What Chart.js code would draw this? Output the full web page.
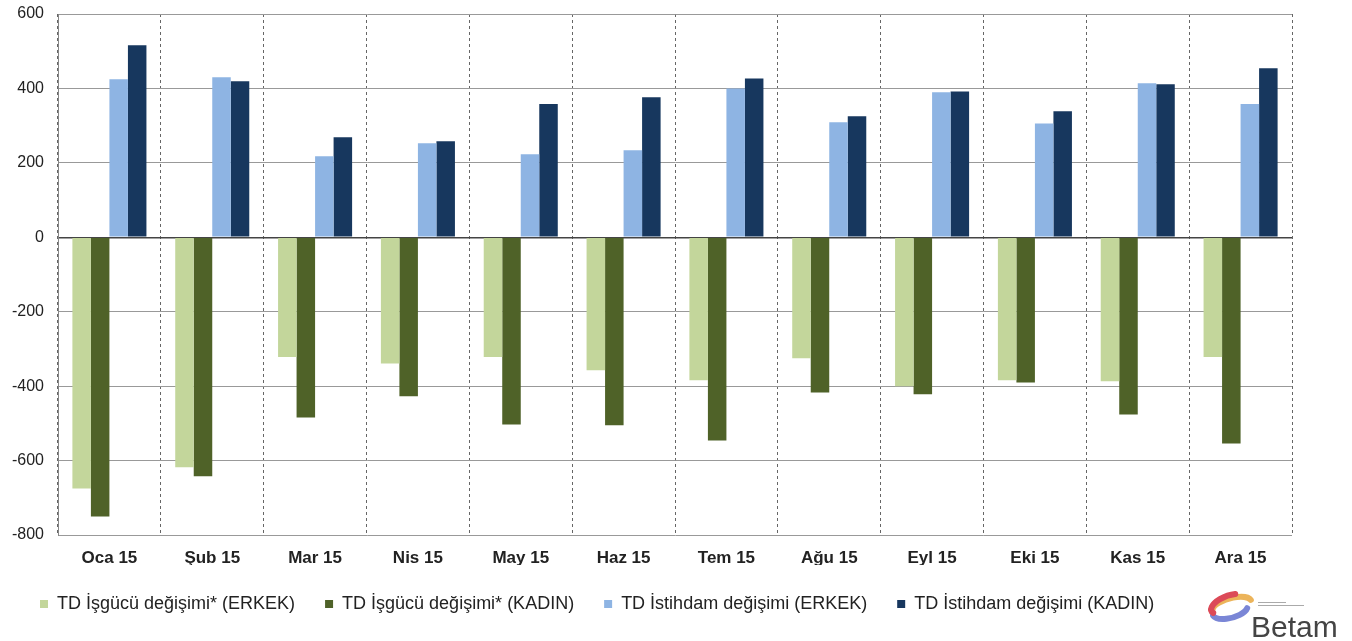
<!DOCTYPE html>
<html>
<head>
<meta charset="utf-8">
<script src="https://cdn.jsdelivr.net/npm/chart.js@4.4.1/dist/chart.umd.min.js"></script>
<style>
  html, body { margin: 0; padding: 0; background: #fff; }
  #wrap { width: 1352px; height: 641px; position: relative; }
</style>
</head>
<body>
<div id="wrap"><canvas id="chart"></canvas></div>
<script>
var months = ['Oca 15', 'Şub 15', 'Mar 15', 'Nis 15', 'May 15', 'Haz 15', 'Tem 15', 'Ağu 15', 'Eyl 15', 'Eki 15', 'Kas 15', 'Ara 15'];
var isgucuErkek = [-675, -618, -322, -339, -322, -357, -384, -325, -400, -384, -387, -322];
var isgucuKadin = [-750, -642, -484, -427, -503, -505, -546, -417, -422, -390, -476, -554];
var istihdamErkek = [425, 430, 218, 253, 223, 234, 400, 309, 390, 306, 414, 358];
var istihdamKadin = [516, 419, 269, 258, 358, 376, 427, 325, 392, 339, 411, 454];
var yMin = -800, yMax = 600, yStep = 200;

// small Betam logo bottom right
var logoPlugin = {
    id: 'logo',
    afterDraw: function(chart) {
        var c = chart.ctx;
        c.save();
        c.lineCap = 'round';
        c.lineWidth = 6;
        c.strokeStyle = '#ecb45a';
        c.beginPath(); c.ellipse(1232, 606, 20, 8, -0.25, Math.PI * 1.05, Math.PI * 1.95); c.stroke();
        c.strokeStyle = '#7a86d6';
        c.beginPath(); c.ellipse(1230, 610, 18, 8, -0.25, Math.PI * 0.1, Math.PI * 0.95); c.stroke();
        c.strokeStyle = '#dc4a58';
        c.beginPath(); c.ellipse(1228, 604, 18, 8, -0.4, Math.PI * 0.9, Math.PI * 1.7); c.stroke();
        c.fillStyle = '#444';
        c.font = '30px "Liberation Sans", Arial, sans-serif';
        c.textBaseline = 'alphabetic';
        c.fillText('Betam', 1251, 637);
        c.fillStyle = '#aaa';
        c.fillRect(1258, 602, 28, 1);
        c.fillRect(1258, 605, 46, 1);
        c.restore();
    }
};

var ctx = document.getElementById('chart').getContext('2d');
var chart = new Chart(ctx, {
    type: 'bar',
    data: {
        labels: months,
        datasets: [{
            label: 'TD İşgücü değişimi* (ERKEK)',
            data: isgucuErkek,
            backgroundColor: '#c3d69b'
        }, {
            label: 'TD İşgücü değişimi* (KADIN)',
            data: isgucuKadin,
            backgroundColor: '#4f6228'
        }, {
            label: 'TD İstihdam değişimi (ERKEK)',
            data: istihdamErkek,
            backgroundColor: '#8eb4e3'
        }, {
            label: 'TD İstihdam değişimi (KADIN)',
            data: istihdamKadin,
            backgroundColor: '#17375e'
        }]
    },
    options: {
        responsive: true,
        maintainAspectRatio: false,
        animation: false,
        layout: {
            padding: { top: 14, right: 60, left: 10, bottom: 18 }
        },
        datasets: {
            bar: { barPercentage: 1, categoryPercentage: 0.72 }
        },
        plugins: {
            tooltip: { enabled: false },
            legend: {
                position: 'bottom',
                align: 'start',
                labels: {
                    boxWidth: 8,
                    boxHeight: 8,
                    padding: 30,
                    color: '#222',
                    font: { family: '"Liberation Sans", Arial, sans-serif', size: 18 }
                }
            }
        },
        scales: {
            x: {
                afterFit: function(scale) { scale.height = 30; },
                grid: {
                    offset: true,
                    drawTicks: false,
                    color: '#666',
                    lineWidth: 1
                },
                border: { display: false, dash: [3, 3] },
                ticks: {
                    padding: 13,
                    color: '#222',
                    font: { family: '"Liberation Sans", Arial, sans-serif', size: 17, weight: 'bold' }
                }
            },
            y: {
                min: yMin,
                max: yMax,
                afterFit: function(scale) {
                    scale.width = 48;
                    scale.paddingTop = 0;
                    scale.paddingBottom = 0;
                },
                ticks: {
                    stepSize: yStep,
                    padding: 14,
                    color: '#222',
                    font: { family: '"Liberation Sans", Arial, sans-serif', size: 16 }
                },
                grid: {
                    drawTicks: false,
                    color: function(c) { return c.tick && c.tick.value === 0 ? '#444' : '#999'; },
                    lineWidth: function(c) { return c.tick && c.tick.value === 0 ? 1.5 : 1; }
                },
                border: { color: '#888' }
            }
        }
    },
    plugins: [logoPlugin]
});
// dashed vertical grid lines
chart.options.scales.x.border.dash = [3, 3];
chart.options.scales.x.grid.tickBorderDash = [3, 3];
chart.update();
</script>
</body>
</html>
